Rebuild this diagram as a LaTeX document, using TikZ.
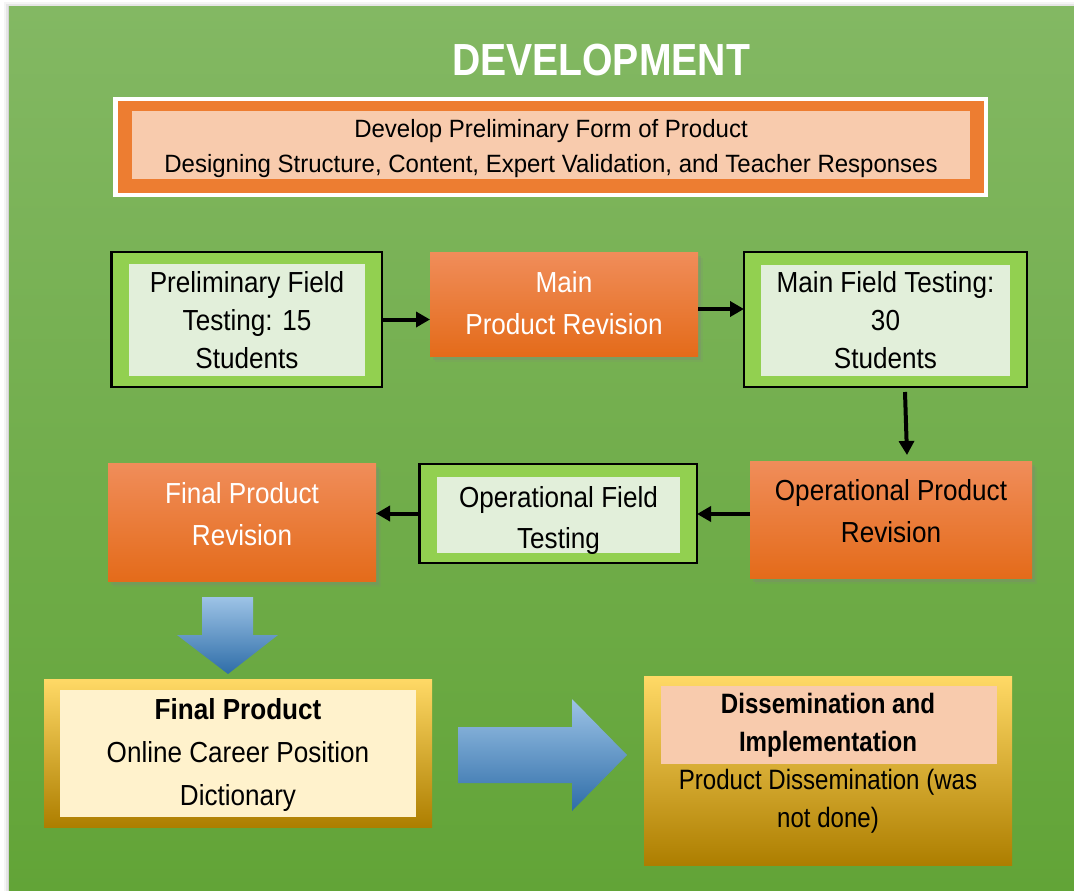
\documentclass[tikz,border=0pt]{standalone}
\usepackage{fontspec}
\setmainfont{Liberation Sans}
\newfontfamily\boxfont[FakeStretch=0.9]{Liberation Sans}
\newfontfamily\difont[FakeStretch=0.86]{Liberation Sans}
\newfontfamily\topfont[FakeStretch=0.96]{Liberation Sans}
\newfontfamily\titlefont[FakeStretch=0.87]{Liberation Sans}
\usetikzlibrary{arrows.meta,calc,shadows}

\definecolor{bgtop}{HTML}{83B863}
\definecolor{bgbot}{HTML}{62A437}
\definecolor{orangemain}{HTML}{ED7D31}
\definecolor{peach}{HTML}{F8CBAD}
\definecolor{leafgreen}{HTML}{92D050}
\definecolor{palegreen}{HTML}{E2EFDA}
\definecolor{orgtop}{HTML}{F08D5A}
\definecolor{orgmid}{HTML}{F47E2B}
\definecolor{orgbot}{HTML}{E46B1A}
\definecolor{goldtop}{HTML}{FFD966}
\definecolor{goldmid}{HTML}{FFC000}
\definecolor{goldbot}{HTML}{AD7E00}
\definecolor{cream}{HTML}{FFF2CC}
\definecolor{bluetop}{HTML}{9DC3E6}
\definecolor{bluebot}{HTML}{2E6DA8}

\begin{document}
\begin{tikzpicture}[x=1pt,y=-1pt,
  plain/.style={rectangle,inner sep=0pt,outer sep=0pt},
  testbox/.style={plain,fill=leafgreen,draw=black,line width=2.5pt},
  testin/.style={plain,fill=palegreen},
  revbox/.style={plain,top color=orgtop,middle color=orgmid,bottom color=orgbot,
    drop shadow={shadow xshift=5pt,shadow yshift=-6pt,opacity=0.12},
    drop shadow={shadow xshift=3pt,shadow yshift=-4pt,opacity=0.25}},
  goldbox/.style={plain,top color=goldtop,middle color=goldmid,bottom color=goldbot},
  boxtext/.style={anchor=base,align=center,inner sep=0pt,
    font=\boxfont\fontsize{29}{38}\selectfont},
  revtext/.style={boxtext,font=\boxfont\fontsize{29}{42}\selectfont},
  flow/.style={line width=4pt,-{Triangle[length=14pt,width=15pt]}},
  bigarrow/.style={top color=bluetop,bottom color=bluebot,draw=none}]

\useasboundingbox (0,0) rectangle (1074,891);
\fill[white] (0,0) rectangle (1074,891);

% page background with a soft edge shadow
\fill[black,opacity=0.04] (4,2) rectangle (1074,891);
\fill[black,opacity=0.06] (6,4) rectangle (1074,891);
\fill[black,opacity=0.08] (8,6) rectangle (1074,891);
\shade[top color=bgtop,bottom color=bgbot] (9,7) rectangle (1074,891);

% title
\node[anchor=base,inner sep=0pt,text=white,
  font=\titlefont\bfseries\fontsize{45}{50}\selectfont] (title) at (601,75) {DEVELOPMENT};

% preliminary form of product (text anchored at the last baseline)
\node[plain,fill=white,minimum width=875,minimum height=100] (topout) at (550.5,147) {};
\node[plain,fill=orangemain,minimum width=866,minimum height=92] (toporange) at (551,147) {};
\node[plain,fill=peach,minimum width=838,minimum height=68] (toppeach) at (551,145) {};
\node[anchor=base,align=center,inner sep=0pt,
  font=\topfont\fontsize{25}{35}\selectfont] (toptext) at (551,172)
  {Develop Preliminary Form of Product\\Designing Structure, Content, Expert Validation, and Teacher Responses};

% first row
\node[testbox,minimum width=270.5,minimum height=135] (pft) at (246.75,319.5) {};
\node[testin,minimum width=236,minimum height=112] (pftin) at (247,320) {};
\node[boxtext] (pfttext) at (247,368) {Preliminary Field\\Testing: 15\\Students};

\node[revbox,minimum width=268,minimum height=104] (mpr) at (564,304) {};
\node[revtext,text=white] (mprtext) at (564,334) {Main\\Product Revision};

\node[testbox,minimum width=283,minimum height=135] (mft) at (885.5,319.5) {};
\node[testin,minimum width=249,minimum height=111] (mftin) at (885.5,320.5) {};
\node[boxtext] (mfttext) at (885.5,368) {Main Field Testing:\\30\\Students};

% second row
\node[revbox,minimum width=282,minimum height=117] (opr) at (891,519.5) {};
\node[revtext] (oprtext) at (891,542) {Operational Product\\Revision};

\node[testbox,minimum width=277.5,minimum height=99] (oft) at (558.25,513.5) {};
\node[testin,minimum width=243,minimum height=76] (oftin) at (558.5,515) {};
\begin{scope}
  \clip (oftin.north west) rectangle (oftin.south east);
  \node[boxtext,font=\boxfont\fontsize{29}{41}\selectfont] (ofttext) at (558.5,548) {Operational Field\\Testing};
\end{scope}

\node[revbox,minimum width=268,minimum height=118] (fpr) at (242,522) {};
\node[revtext,text=white] (fprtext) at (242,545) {Final Product\\Revision};

% connectors
\coordinate (mprout) at ($(mpr.east)+(0,5)$);
\coordinate (mftout) at ($(mft.south)+(19.5,5)$);
\coordinate (oprin) at ($(opr.north)+(16,-6)$);
\coordinate (oprout) at ($(opr.west)+(0,-5.5)$);
\draw[flow] (pft.east) -- (pft.east -| mpr.west);
\draw[flow] (mprout) -- (mprout -| mft.west);
\draw[flow] (mftout) -- (oprin);
\draw[flow] (oprout) -- (oprout -| oft.east);
\draw[flow] (oft.west) -- (oft.west -| fpr.east);

% block arrows
\path[bigarrow] (202,597) -- (253,597) -- (253,635) -- (278,635) -- (228,674)
  -- (177,635) -- (202,635) -- cycle;
\path[bigarrow] (458,727) -- (572,727) -- (572,699) -- (627,755) -- (572,811)
  -- (572,783) -- (458,783) -- cycle;

% final product
\node[goldbox,minimum width=388,minimum height=148] (fp) at (238,753) {};
\node[plain,fill=cream,minimum width=356,minimum height=127] (fpin) at (238,753.5) {};
\node[boxtext,font=\boxfont\fontsize{29}{43}\selectfont] (fptext) at (238,805)
  {\textbf{Final Product}\\Online Career Position\\Dictionary};

% dissemination and implementation
\node[goldbox,minimum width=368,minimum height=189] (di) at (828,770.5) {};
\node[plain,fill=peach,minimum width=336,minimum height=78] (diin) at (829,725) {};
\node[boxtext,font=\difont\fontsize{28}{38}\selectfont] (ditext) at (828,827)
  {\textbf{Dissemination and}\\\textbf{Implementation}\\Product Dissemination (was\\not done)};

\end{tikzpicture}
\end{document}
